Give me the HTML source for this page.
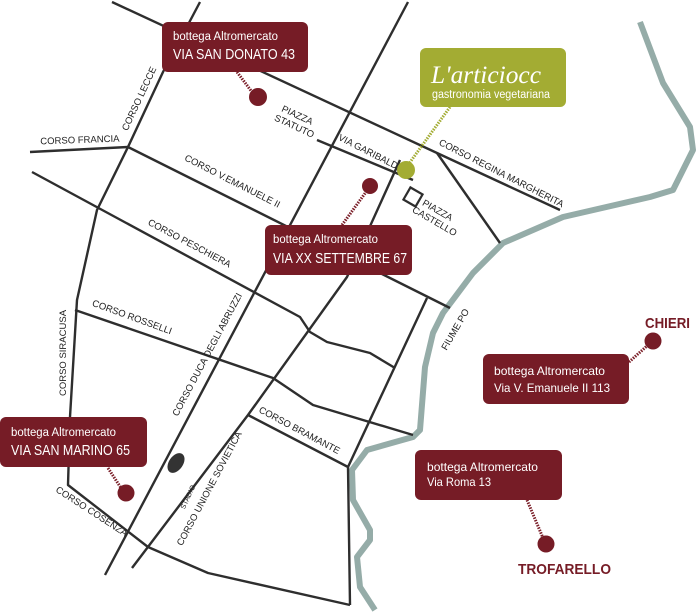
<!DOCTYPE html>
<html><head><meta charset="utf-8"><style>
html,body{margin:0;padding:0;background:#fff}
svg{display:block}
.r{fill:none;stroke:#2e2e2e;stroke-width:2.4;stroke-linejoin:round}
.l{font-family:"Liberation Sans",sans-serif;font-size:9.5px;fill:#222}
.b1{font-family:"Liberation Sans",sans-serif;font-size:11.5px;fill:#fff}
.b2{font-family:"Liberation Sans",sans-serif;font-size:14.5px;fill:#fff}
.b3{font-family:"Liberation Sans",sans-serif;font-size:12px;fill:#fff}
</style></head><body>
<svg width="700" height="613" viewBox="0 0 700 613" xmlns="http://www.w3.org/2000/svg">
<polyline fill="none" stroke="#95aca8" stroke-width="6" stroke-linejoin="round" points="640,22 663,83 690,127 693,150 673,190 650,197 563,217 503,243 473,273 443,313 433,333 425,367 420,430 413,437 367,450 352,470 353,500 370,530 370,540 357,557 360,587 375,610"/>
<polyline class="r" points="112,2 437,153 560,210"/>
<polyline class="r" points="317,140 413,180"/>
<polyline class="r" points="437,153 500,243"/>
<polyline class="r" points="200,2 163,72 128,147 97,210 77,300 70,417 68,485 148,547 208,573 350,605"/>
<polyline class="r" points="30,152 128,147 450,308"/>
<polyline class="r" points="32,172 300,317 310,332 327,342 370,353 395,368"/>
<polyline class="r" points="75,310 273,378 313,405 413,435"/>
<polyline class="r" points="408,2 105,575"/>
<polyline class="r" points="400,160 347,277 248,415 132,568"/>
<polyline class="r" points="248,415 348,467 350,605"/>
<polyline class="r" points="427,298 348,467"/>
<rect x="406" y="190" width="14" height="14" fill="#fff" stroke="#2e2e2e" stroke-width="2.2" transform="rotate(30 413 197)"/>
<ellipse cx="176" cy="463" rx="7" ry="11" fill="#333" transform="rotate(35 176 463)"/>
<text class="l" transform="translate(142,100) rotate(-65)" text-anchor="middle">CORSO LECCE</text>
<text class="l" transform="translate(80,143) rotate(-2)" text-anchor="middle">CORSO FRANCIA</text>
<text class="l" transform="translate(296,118) rotate(25)" text-anchor="middle">PIAZZA</text>
<text class="l" transform="translate(293,129) rotate(25)" text-anchor="middle">STATUTO</text>
<text class="l" transform="translate(368,155) rotate(27)" text-anchor="middle">VIA GARIBALDI</text>
<text class="l" transform="translate(231,184) rotate(27)" text-anchor="middle">CORSO V.EMANUELE II</text>
<text class="l" transform="translate(188,246) rotate(28)" text-anchor="middle">CORSO PESCHIERA</text>
<text class="l" transform="translate(500,176) rotate(27)" text-anchor="middle">CORSO REGINA MARGHERITA</text>
<text class="l" transform="translate(436,213) rotate(30)" text-anchor="middle">PIAZZA</text>
<text class="l" transform="translate(433,224) rotate(30)" text-anchor="middle">CASTELLO</text>
<text class="l" transform="translate(458,331) rotate(-60)" text-anchor="middle">FIUME PO</text>
<text class="l" transform="translate(131,320) rotate(20)" text-anchor="middle">CORSO ROSSELLI</text>
<text class="l" transform="translate(66,353) rotate(-90)" text-anchor="middle">CORSO SIRACUSA</text>
<text class="l" transform="translate(210,356) rotate(-62)" text-anchor="middle">CORSO DUCA DEGLI ABRUZZI</text>
<text class="l" transform="translate(190,498) rotate(-65)" text-anchor="middle" style="font-size:7px">STADIO</text>
<text class="l" transform="translate(212,490) rotate(-62)" text-anchor="middle">CORSO UNIONE SOVIETICA</text>
<text class="l" transform="translate(298,433) rotate(28)" text-anchor="middle">CORSO BRAMANTE</text>
<text class="l" transform="translate(90,514) rotate(33)" text-anchor="middle">CORSO COSENZA</text>
<g stroke="#7a1e28" stroke-width="3" stroke-dasharray="1.5 1.2" fill="none">
<line x1="237" y1="72" x2="252" y2="92"/>
<line x1="342" y1="225" x2="366" y2="192"/>
<line x1="108" y1="468" x2="121" y2="488"/>
<line x1="629" y1="362" x2="648" y2="345"/>
<line x1="527" y1="500" x2="543" y2="538"/>
</g>
<line x1="450" y1="107" x2="408" y2="165" stroke="#a3ac33" stroke-width="3" stroke-dasharray="1.5 1.2"/>
<g fill="#761c26">
<circle cx="258" cy="97" r="9"/>
<circle cx="370" cy="186" r="8"/>
<circle cx="126" cy="493" r="8.5"/>
<circle cx="653" cy="341" r="8.5"/>
<circle cx="546" cy="544" r="8.5"/>
<rect x="162" y="22" width="146" height="50" rx="6"/>
<rect x="265" y="225" width="147" height="50" rx="6"/>
<rect x="0" y="417" width="147" height="50" rx="6"/>
<rect x="483" y="354" width="146" height="50" rx="6"/>
<rect x="415" y="450" width="147" height="50" rx="6"/>
</g>
<circle cx="406" cy="170" r="9" fill="#a3ac33"/>
<rect x="420" y="48" width="146" height="59" rx="6" fill="#a3ac33"/>
<text x="431" y="83" style="font-family:'Liberation Serif',serif;font-style:italic;font-size:25px;fill:#fff" textLength="110" lengthAdjust="spacingAndGlyphs">L'articiocc</text>
<text x="432" y="98" class="b1" textLength="118" lengthAdjust="spacingAndGlyphs">gastronomia vegetariana</text>
<text x="173" y="40" class="b1" textLength="105" lengthAdjust="spacingAndGlyphs">bottega Altromercato</text>
<text x="173" y="59" class="b2" textLength="122" lengthAdjust="spacingAndGlyphs">VIA SAN DONATO 43</text>
<text x="273" y="243" class="b1" textLength="105" lengthAdjust="spacingAndGlyphs">bottega Altromercato</text>
<text x="273" y="263" class="b2" textLength="134" lengthAdjust="spacingAndGlyphs">VIA XX SETTEMBRE 67</text>
<text x="11" y="436" class="b1" textLength="105" lengthAdjust="spacingAndGlyphs">bottega Altromercato</text>
<text x="11" y="455" class="b2" textLength="119" lengthAdjust="spacingAndGlyphs">VIA SAN MARINO 65</text>
<text x="494" y="375" class="b3" textLength="111" lengthAdjust="spacingAndGlyphs">bottega Altromercato</text>
<text x="494" y="392" class="b3" textLength="116" lengthAdjust="spacingAndGlyphs">Via V. Emanuele II 113</text>
<text x="427" y="471" class="b3" textLength="111" lengthAdjust="spacingAndGlyphs">bottega Altromercato</text>
<text x="427" y="486" class="b3" textLength="64" lengthAdjust="spacingAndGlyphs">Via Roma 13</text>
<text x="645" y="328" style="font-family:'Liberation Sans',sans-serif;font-weight:bold;font-size:15px;fill:#761c26" textLength="45" lengthAdjust="spacingAndGlyphs">CHIERI</text>
<text x="518" y="574" style="font-family:'Liberation Sans',sans-serif;font-weight:bold;font-size:15px;fill:#761c26" textLength="93" lengthAdjust="spacingAndGlyphs">TROFARELLO</text>
</svg>
</body></html>
